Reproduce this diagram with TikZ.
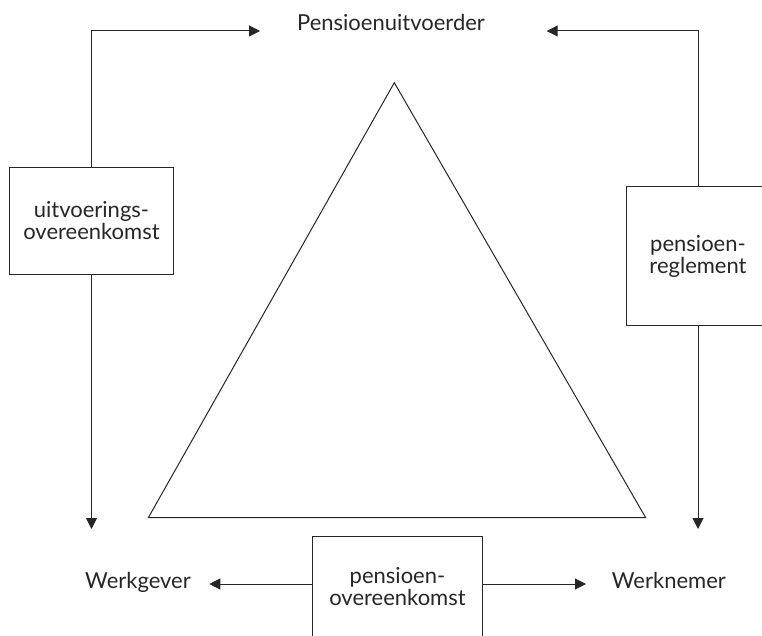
\documentclass[tikz,border=0pt]{standalone}
\usepackage{fontspec}
\setmainfont{Lato}
\usetikzlibrary{arrows.meta}
\definecolor{ink}{HTML}{262626}
\begin{document}
\begin{tikzpicture}[x=1pt,y=-1pt,
  lbl/.style={font=\fontsize{22}{22}\selectfont, text=ink, inner sep=0pt},
  box/.style={draw=ink, line width=1pt, align=center, inner sep=0pt, font=\fontsize{22}{22}\selectfont, text=ink},
  conn/.style={draw=ink, line width=1pt},
  arr/.style={conn, -{Triangle[length=11pt,width=11pt]}}]
\useasboundingbox (0,0) rectangle (762,636);
% triangle
\coordinate (tA) at (394.3,82.7);
\coordinate (tB) at (148.3,517.7);
\coordinate (tC) at (645.7,517.7);
\draw[conn] (tA) -- (tB) -- (tC) -- cycle;
% labels
\node[lbl, anchor=base] (pu) at (391,31) {Pensioenuitvoerder};
\node[lbl, anchor=base west] (wg) at (85,588) {Werkgever};
\node[lbl, anchor=base west] (wn) at (611.7,588) {Werknemer};
% boxes
\node[box, minimum width=164.4pt, minimum height=106pt] (uo) at (91.5,221) {uitvoerings-\\overeenkomst};
\node[box, minimum width=143pt, minimum height=139pt] (pr) at (698,256.2) {pensioen-\\reglement};
\node[box, minimum width=169.6pt, minimum height=101pt] (po) at (397.5,586.5) {pensioen-\\overeenkomst};
% arrow ends
\coordinate (puL) at (260,31);
\coordinate (puR) at (546.7,31);
\coordinate (wgT) at (91.5,529);
\coordinate (wnT) at (698,529);
\coordinate (wgR) at (209.3,584);
\coordinate (wnL) at (586,584);
% connectors
\draw[arr] (uo.north) |- (puL);
\draw[arr] (pr.north) |- (puR);
\draw[arr] (uo.south) -- (wgT);
\draw[arr] (pr.south) -- (wnT);
\draw[arr] (po.west |- wgR) -- (wgR);
\draw[arr] (po.east |- wnL) -- (wnL);
\end{tikzpicture}
\end{document}
